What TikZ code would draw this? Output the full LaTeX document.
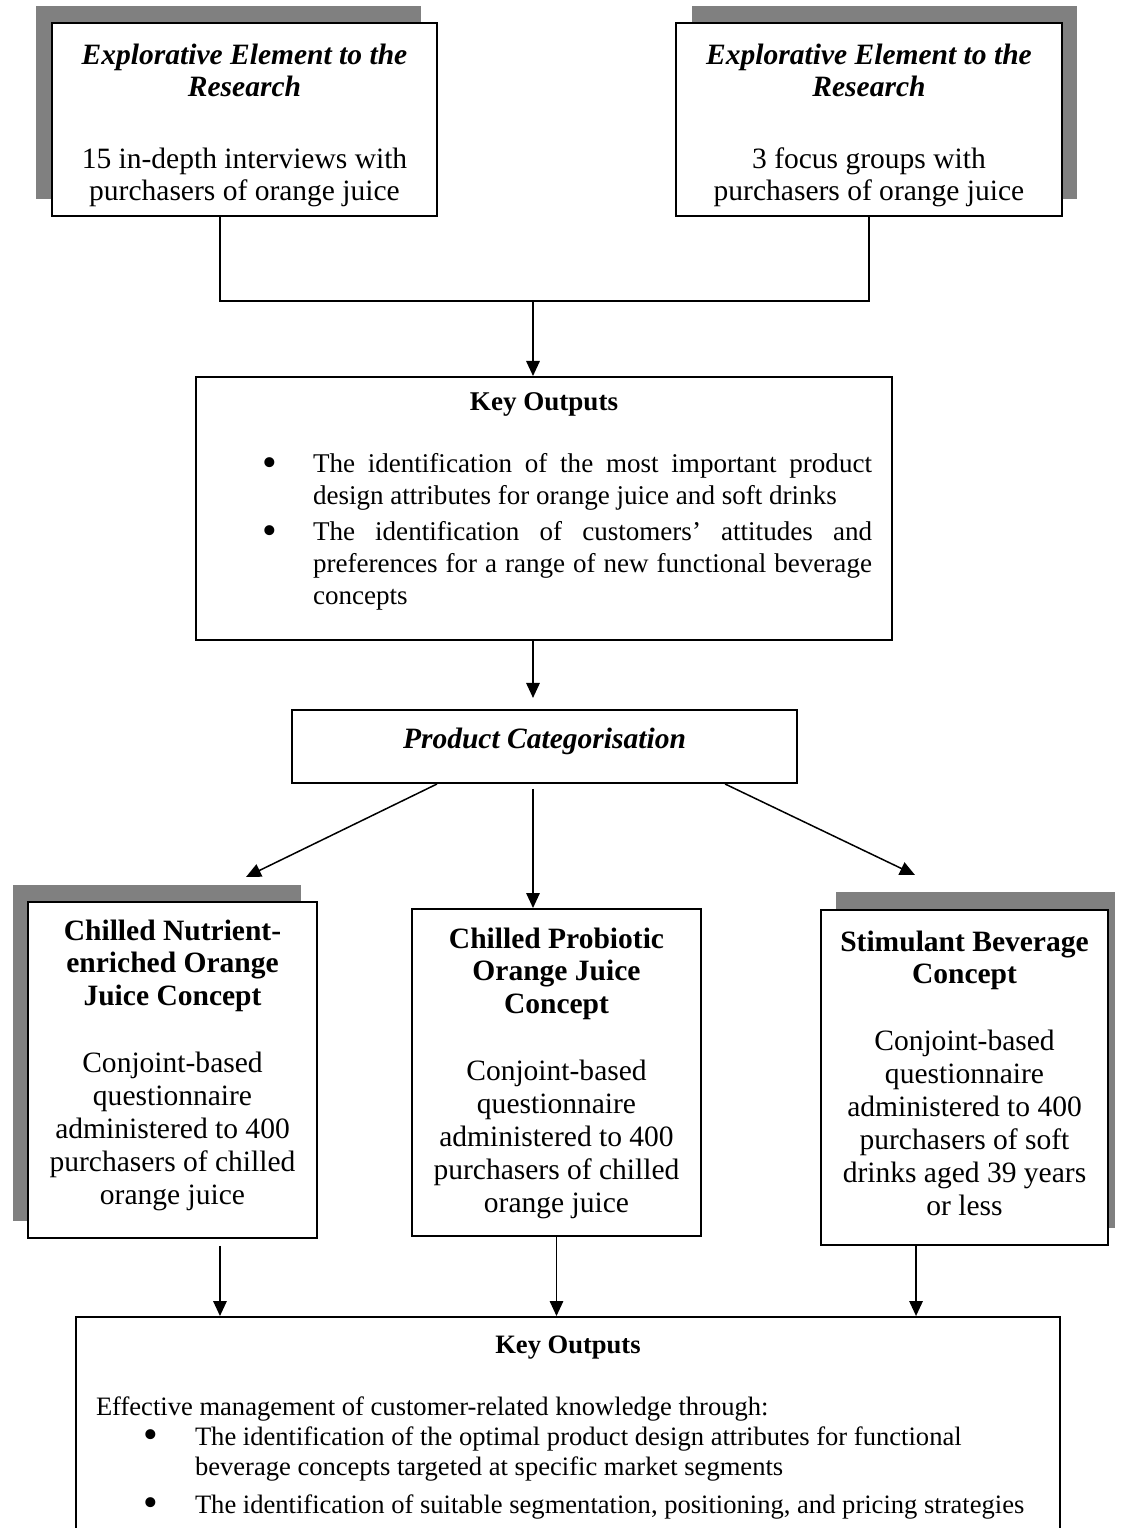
\documentclass[tikz,border=0pt]{standalone}
\usepackage{fontspec}
\setmainfont{Liberation Serif}
\usetikzlibrary{arrows.meta}

\newlength\px
\setlength\px{0.4065pt}

%bullet list for the output boxes
\newcommand\bigdot{\llap{\raisebox{-0.12em}{\fontsize{17pt}{17pt}\selectfont\textbullet}}}
\newenvironment{keylist}[3]{%
  \begin{list}{\bigdot}{%
    \setlength\leftmargin{#1}%
    \setlength\labelsep{#2}%
    \setlength\labelwidth{10\px}%
    \setlength\itemindent{0pt}%
    \setlength\topsep{0pt}%
    \setlength\partopsep{0pt}%
    \setlength\parsep{0pt}%
    \setlength\itemsep{#3}}}%
  {\end{list}}
%one line of a bullet, full or natural width
\newcommand\fullline[1]{\makebox[\linewidth][s]{#1}}
\newcommand\oneline[1]{\makebox[\linewidth][l]{#1}}

\tikzset{
  box/.style={draw, line width=0.81pt, fill=white, anchor=north, inner xsep=4.07pt, inner ysep=0pt,
    execute at begin node={\spaceskip=0pt\xspaceskip=0pt}},
  big/.style={box, font=\fontsize{12pt}{13.4pt}\selectfont,
    execute at begin node={\spaceskip=0pt\xspaceskip=0pt\centering}},
  keybox/.style={box, inner xsep=8.13pt, font=\fontsize{11pt}{13pt}\selectfont},
  conn/.style={line width=0.61pt},
  arr/.style={conn, -{Triangle[length=6.1pt,width=5.5pt]}}
}

\begin{document}
\begin{tikzpicture}[x=0.4065pt, y=-0.4065pt]
        \useasboundingbox (0,0) rectangle (1121,1528);
        \clip (0,0) rectangle (1121,1528);

        %ombre
        \fill[gray] (36,6) rectangle (421,199);
        \fill[gray] (692,6) rectangle (1077,199);
        \fill[gray] (13,885) rectangle (301,1221);
        \fill[gray] (836,892) rectangle (1115,1228);

        %explorative element
        \node[big, font=\fontsize{12pt}{13pt}\selectfont, text width=365\px, minimum width=385\px, text height=42\px, text depth=151\px] (intA) at (244.5,22)
            {\textbf{\textit{Explorative Element to the\\Research}}\\[16pt]15 in-depth interviews with\\purchasers of orange juice};
        \node[big, font=\fontsize{12pt}{13pt}\selectfont, text width=366\px, minimum width=386\px, text height=42\px, text depth=151\px] (intB) at (869,22)
            {\textbf{\textit{Explorative Element to the\\Research}}\\[16pt]3 focus groups with\\purchasers of orange juice};

        %key outputs 1
        \node[keybox, text width=656\px, minimum width=696\px, text height=34\px, text depth=229\px] (outA) at (544,376)
            {\centerline{\textbf{Key Outputs}}\par\vspace{12.2pt}%
            \begin{keylist}{97\px}{36\px}{1.6pt}
            \item \fullline{The identification of the most important product}\\\oneline{design attributes for orange juice and soft drinks}
            \item \fullline{The identification of customers’ attitudes and}\\\fullline{preferences for a range of new functional beverage}\\concepts
            \end{keylist}};

        %product categorisation
        \node[box, minimum width=505\px, text height=38\px, text depth=35\px, font=\fontsize{12pt}{13pt}\selectfont\bfseries\itshape] (catA) at (544.5,709) {Product Categorisation};

        %concepts
        \node[big, text width=269\px, minimum width=289\px, text height=38\px, text depth=298\px] (conA) at (172.5,901)
            {\textbf{Chilled Nutrient-\\enriched Orange\\Juice Concept}\\[13.8pt]Conjoint-based\\questionnaire\\administered to 400\\purchasers of chilled\\orange juice};
        \node[big, text width=268\px, minimum width=288\px, text height=39\px, text depth=288\px] (conB) at (556.5,908)
            {\textbf{Chilled Probiotic\\Orange Juice\\Concept}\\[13.8pt]Conjoint-based\\questionnaire\\administered to 400\\purchasers of chilled\\orange juice};
        \node[big, text width=267\px, minimum width=287\px, text height=41\px, text depth=294\px] (conC) at (964.5,909)
            {\textbf{Stimulant Beverage\\Concept}\\[13.8pt]Conjoint-based\\questionnaire\\administered to 400\\purchasers of soft\\drinks aged 39 years\\or less};

        %key outputs 2
        \node[keybox, font=\fontsize{10.8pt}{12.2pt}\selectfont, text width=944\px, minimum width=984\px, text height=36\px, text depth=224\px] (finA) at (568,1316)
            {\centerline{\textbf{Key Outputs}}\par\vspace{13pt}%
            \noindent Effective management of customer-related knowledge through:
            \begin{keylist}{99\px}{37\px}{3.3pt}
            \item \oneline{The identification of the optimal product design attributes for functional}\\\oneline{beverage concepts targeted at specific market segments}
            \item \oneline{The identification of suitable segmentation, positioning, and pricing strategies}
            \end{keylist}};

        %frecce
        \coordinate (joinA) at (533,301);
        \coordinate (tipA) at (246,877);
        \coordinate (tipC) at (915,875);
        \coordinate (dropA) at ([xshift=19.3pt]conA.south);
        \coordinate (dropC) at ([xshift=-19.7pt]conC.south);

        \draw[conn] ([xshift=-10pt]intA.south) |- (joinA) -| (intB.south);
        \draw[arr] (joinA) -- (joinA |- outA.north);
        \draw[arr, shorten >=4.5pt] (joinA |- outA.south) -- (joinA |- catA.north);
        \draw[arr] ([xshift=-43.7pt]catA.south) -- (tipA);
        \draw[arr, shorten <=2pt] (joinA |- catA.south) -- (joinA |- conB.north);
        \draw[arr] ([xshift=73.4pt]catA.south) -- (tipC);
        \draw[arr, shorten <=2.8pt] (dropA) -- (dropA |- finA.north);
        \draw[arr] (conB.south) -- (conB.south |- finA.north);
        \draw[arr] (dropC) -- (dropC |- finA.north);
\end{tikzpicture}
\end{document}
